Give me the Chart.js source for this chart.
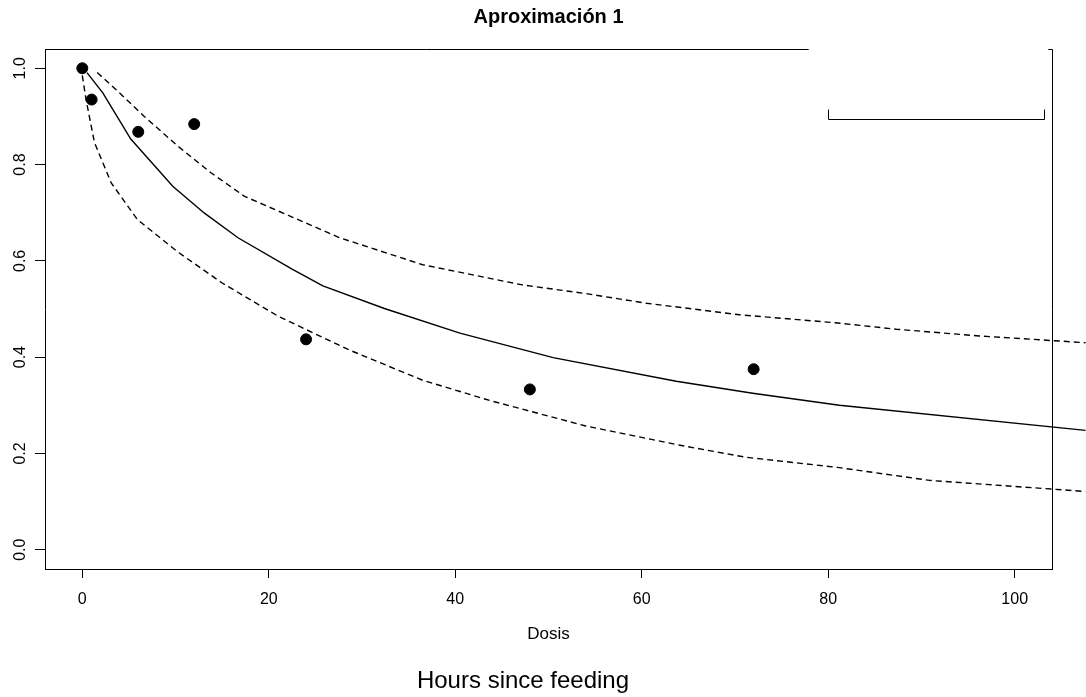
<!DOCTYPE html>
<html>
<head>
<meta charset="utf-8">
<title>Aproximación 1</title>
<script src="https://cdn.jsdelivr.net/npm/chart.js@4"></script>
<style>
  html, body { margin: 0; padding: 0; background: #fff; overflow: hidden; }
  canvas { display: block; }
</style>
</head>
<body>
<canvas id="chart" width="1086" height="697"></canvas>
<script>
// observed points
const obsX = [0, 1, 6, 12, 24, 48, 72];
const obsY = [1.0, 0.935, 0.868, 0.884, 0.437, 0.333, 0.375];

// fitted curve (solid)
const fitX = [0.5, 2.2, 5.2, 9.7, 13.1, 16.7, 22.5, 25.8, 32.4, 40.5, 50.5, 63.7, 71.9, 81.2, 107.6];
const fitY = [0.991, 0.949, 0.853, 0.755, 0.699, 0.648, 0.583, 0.548, 0.501, 0.450, 0.399, 0.350, 0.325, 0.300, 0.248];

// upper band (dashed)
const upperX = [1.6, 3.6, 6.65, 10.2, 13.8, 17.4, 22.5, 27.6, 36.5, 47.2, 54, 60.5, 70.5, 81, 87.3, 96.2, 107.6];
const upperY = [0.991, 0.956, 0.900, 0.839, 0.783, 0.734, 0.691, 0.648, 0.592, 0.550, 0.532, 0.512, 0.488, 0.471, 0.458, 0.444, 0.430];

// lower band (dashed)
const lowerX = [0, 0.4, 1.3, 3.1, 5.9, 10.2, 15, 21, 28.5, 36.5, 43.7, 54, 64.1, 71.2, 81, 90.9, 107.6];
const lowerY = [0.985, 0.935, 0.846, 0.762, 0.686, 0.619, 0.554, 0.485, 0.416, 0.352, 0.310, 0.257, 0.217, 0.192, 0.171, 0.144, 0.121];

// tick labels
const xTicks = [0, 20, 40, 60, 80, 100];
const yTicks = [0.0, 0.2, 0.4, 0.6, 0.8, 1.0];

const toPts = (xs, ys) => xs.map((v, i) => ({ x: v, y: ys[i] }));

const FONT = "'Liberation Sans', Arial, Helvetica, sans-serif";
Chart.defaults.font.family = FONT;
Chart.defaults.color = '#000';

// legend remnant in the top right corner (data units)
const legendBox = { left: 80, right: 103.1, top: 0.915, bottom: 0.894 };
const topGap = { from: 77.9, to: 103.6 };

const framePlugin = {
    id: 'frame',
    afterDraw(chart) {
        const { ctx, chartArea: a, scales: { x, y } } = chart;
        ctx.save();
        ctx.strokeStyle = '#000';
        ctx.lineWidth = 1;

        // top and right sides of the box (top is broken by the legend)
        ctx.beginPath();
        ctx.moveTo(a.left, a.top + 0.5);
        ctx.lineTo(x.getPixelForValue(topGap.from), a.top + 0.5);
        ctx.moveTo(x.getPixelForValue(topGap.to), a.top + 0.5);
        ctx.lineTo(a.right + 0.5, a.top + 0.5);
        ctx.lineTo(a.right + 0.5, a.bottom);
        ctx.stroke();

        // legend bracket
        const l = Math.round(x.getPixelForValue(legendBox.left)) + 0.5;
        const r = Math.round(x.getPixelForValue(legendBox.right)) + 0.5;
        const t = Math.round(y.getPixelForValue(legendBox.top)) + 0.5;
        const b = Math.round(y.getPixelForValue(legendBox.bottom)) + 0.5;
        ctx.beginPath();
        ctx.moveTo(l, t);
        ctx.lineTo(l, b);
        ctx.lineTo(r, b);
        ctx.lineTo(r, t);
        ctx.stroke();

        // rotated y tick labels
        ctx.fillStyle = '#000';
        ctx.font = '16px ' + FONT;
        ctx.textAlign = 'center';
        ctx.textBaseline = 'alphabetic';
        y.ticks.forEach(tk => {
            ctx.save();
            ctx.translate(25, y.getPixelForValue(tk.value));
            ctx.rotate(-Math.PI / 2);
            ctx.fillText(tk.value.toFixed(1), 0, 0);
            ctx.restore();
        });

        // titles
        const cx = (a.left + a.right) / 2;
        ctx.font = 'bold 20px ' + FONT;
        ctx.fillText('Aproximación 1', cx, 23);
        ctx.font = '17px ' + FONT;
        ctx.fillText('Dosis', cx, 639);
        ctx.font = '24px ' + FONT;
        ctx.fillText('Hours since feeding', 523, 688);
        ctx.restore();
    }
};

const lineStyle = {
    showLine: true,
    pointRadius: 0,
    borderColor: '#000',
    borderWidth: 1.4,
    tension: 0,
    clip: false
};

new Chart(document.getElementById('chart').getContext('2d'), {
    type: 'scatter',
    data: {
        datasets: [
            { ...lineStyle, label: 'fit', data: toPts(fitX, fitY) },
            { ...lineStyle, label: 'upper', data: toPts(upperX, upperY), borderDash: [6, 4] },
            { ...lineStyle, label: 'lower', data: toPts(lowerX, lowerY), borderDash: [6, 4] },
            {
                label: 'obs',
                data: toPts(obsX, obsY),
                pointRadius: 5.5,
                pointBackgroundColor: '#000',
                pointBorderColor: '#000',
                showLine: false
            }
        ]
    },
    options: {
        responsive: false,
        devicePixelRatio: 1,
        animation: false,
        layout: { padding: { top: 49, right: 34, left: 0, bottom: 0 } },
        plugins: {
            legend: { display: false },
            tooltip: { enabled: false }
        },
        scales: {
            x: {
                type: 'linear',
                min: -4,
                max: 104,
                afterBuildTicks: s => { s.ticks = xTicks.map(v => ({ value: v })); },
                afterFit: s => { s.height = 128; },
                grid: { drawOnChartArea: false, drawTicks: true, tickLength: 9, color: '#000', lineWidth: 1 },
                border: { display: true, color: '#000', width: 1 },
                ticks: { font: { size: 16 }, color: '#000', padding: 12, maxRotation: 0 }
            },
            y: {
                type: 'linear',
                min: -0.04,
                max: 1.04,
                afterBuildTicks: s => { s.ticks = yTicks.map(v => ({ value: v })); },
                afterFit: s => { s.width = 45; },
                grid: { drawOnChartArea: false, drawTicks: true, tickLength: 10, color: '#000', lineWidth: 1 },
                border: { display: true, color: '#000', width: 1 },
                ticks: { display: false }
            }
        }
    },
    plugins: [framePlugin]
});
</script>
</body>
</html>
